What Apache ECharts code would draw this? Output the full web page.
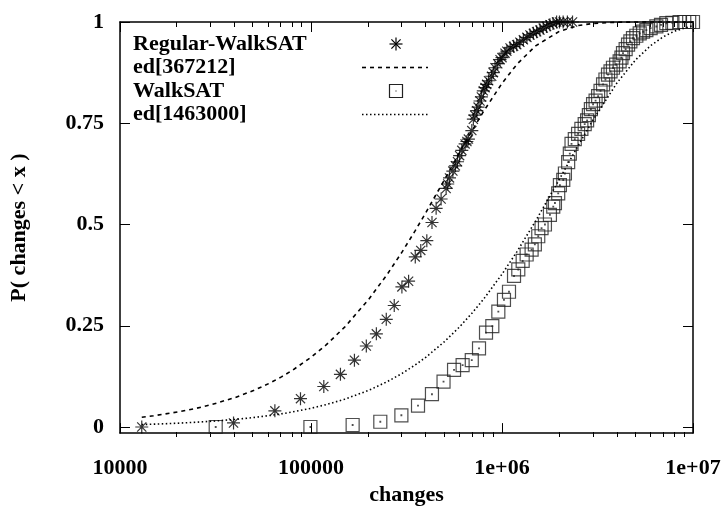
<!DOCTYPE html>
<html><head><meta charset="utf-8">
<script src="https://cdn.jsdelivr.net/npm/echarts@6/dist/echarts.min.js"></script>
<style>html,body{margin:0;padding:0;background:#fff}#c{width:727px;height:511px}</style>
</head><body><div id="c"></div>
<script>
// ---- data ----
const seriesNames = ['Regular-WalkSAT', 'ed[367212]', 'WalkSAT', 'ed[1463000]'];

const regularWalkSAT = [
  [13000, 0.0], [39300, 0.01], [64700, 0.04], [88100, 0.07], [116700, 0.10],
  [142600, 0.13], [168800, 0.165], [194800, 0.20], [219900, 0.23], [247800, 0.266],
  [272800, 0.30], [299200, 0.346], [324300, 0.36], [351500, 0.42], [375600, 0.436],
  [404000, 0.46], [430000, 0.505], [452000, 0.54], [480000, 0.563], [510000, 0.589],
  [520000, 0.60], [531000, 0.615], [553000, 0.632], [570000, 0.645], [585000, 0.655],
  [600000, 0.67], [616000, 0.683], [641000, 0.699], [655000, 0.705], [667000, 0.711],
  [695000, 0.732], [708000, 0.76], [720000, 0.77], [738000, 0.781], [750000, 0.79],
  [767000, 0.805], [780000, 0.815], [798000, 0.83], [815000, 0.838], [831000, 0.846],
  [850000, 0.855], [883000, 0.866], [900000, 0.875], [919000, 0.887], [950000, 0.897],
  [977000, 0.907], [1000000, 0.912], [1037000, 0.923], [1060000, 0.928], [1102000, 0.936],
  [1150000, 0.94], [1194000, 0.944], [1240000, 0.95], [1294000, 0.956], [1350000, 0.962],
  [1401000, 0.968], [1460000, 0.972], [1518000, 0.976], [1580000, 0.98], [1644000, 0.985],
  [1710000, 0.989], [1782000, 0.993], [1850000, 0.996], [1931000, 1.0], [2000000, 1.0],
  [2090000, 1.0], [2200000, 1.0], [2340000, 1.0]
];

const walkSAT = [
  [31700, 0.0], [99300, 0.0], [165200, 0.005], [230600, 0.013], [297300, 0.029],
  [363300, 0.053], [429800, 0.081], [494200, 0.112], [561000, 0.141], [622000, 0.153],
  [694600, 0.165], [758000, 0.194], [824700, 0.233], [889800, 0.249], [956700, 0.285],
  [1024000, 0.314], [1088000, 0.334], [1156000, 0.373], [1217000, 0.389], [1283000, 0.41],
  [1346000, 0.426], [1429000, 0.438], [1486000, 0.451], [1548000, 0.471], [1611000, 0.491],
  [1678000, 0.5], [1782000, 0.524], [1855000, 0.544], [1893000, 0.553], [1969000, 0.577],
  [2010000, 0.597], [2093000, 0.61], [2135000, 0.626], [2220000, 0.654], [2265000, 0.675],
  [2312000, 0.699], [2405000, 0.711], [2502000, 0.724], [2604000, 0.736], [2710000, 0.748],
  [2790000, 0.757], [2850000, 0.77], [2920000, 0.785], [2998000, 0.797], [3090000, 0.806],
  [3186000, 0.817], [3280000, 0.83], [3382000, 0.846], [3480000, 0.858], [3590000, 0.87],
  [3700000, 0.878], [3810000, 0.887], [3960000, 0.895], [4130000, 0.903], [4220000, 0.912],
  [4300000, 0.923], [4440000, 0.933], [4570000, 0.944], [4700000, 0.952], [4850000, 0.96],
  [5050000, 0.966], [5260000, 0.972], [5480000, 0.976], [5700000, 0.98], [6000000, 0.985],
  [6430000, 0.989], [6800000, 0.993], [7250000, 0.997], [7800000, 0.998], [8510000, 1.0],
  [9000000, 1.0], [9550000, 1.0], [10000000, 1.0]
];

const ed367212 = [
  [13000, 0.0242], [15000, 0.0279], [20000, 0.0371], [25000, 0.0461], [30000, 0.0551],
  [40000, 0.0727], [50000, 0.0901], [60000, 0.1071], [70000, 0.1238], [80000, 0.1402],
  [100000, 0.1720], [120000, 0.2027], [150000, 0.2466], [200000, 0.3145], [250000, 0.3762],
  [300000, 0.4324], [350000, 0.4835], [400000, 0.5300], [500000, 0.6109], [600000, 0.6778],
  [700000, 0.7332], [800000, 0.7791], [1000000, 0.8486], [1200000, 0.8962], [1500000, 0.9411],
  [2000000, 0.9771], [2500000, 0.9911], [3000000, 0.9965], [4000000, 0.9995], [5000000, 0.9999],
  [7000000, 1.0], [10000000, 1.0]
];

const ed1463000 = [
  [13000, 0.0061], [15000, 0.0071], [20000, 0.0094], [25000, 0.0118], [30000, 0.0141],
  [40000, 0.0188], [50000, 0.0234], [60000, 0.0280], [70000, 0.0326], [80000, 0.0372],
  [100000, 0.0463], [120000, 0.0553], [150000, 0.0686], [200000, 0.0904], [250000, 0.1117],
  [300000, 0.1325], [350000, 0.1528], [400000, 0.1726], [500000, 0.2109], [600000, 0.2474],
  [700000, 0.2823], [800000, 0.3155], [1000000, 0.3774], [1200000, 0.4337], [1500000, 0.5087],
  [2000000, 0.6123], [2500000, 0.6941], [3000000, 0.7586], [4000000, 0.8497], [5000000, 0.9064],
  [6000000, 0.9417], [7000000, 0.9637], [8000000, 0.9774], [10000000, 0.9912]
];

const xMajorTicks = [10000, 100000, 1000000, 10000000];
const xTickLabels = ['10000', '100000', '1e+06', '1e+07'];
const xMinorTicks = [20000, 30000, 40000, 50000, 60000, 70000, 80000, 90000,
  200000, 300000, 400000, 500000, 600000, 700000, 800000, 900000,
  2000000, 3000000, 4000000, 5000000, 6000000, 7000000, 8000000, 9000000];
const yTicks = [0, 0.25, 0.5, 0.75, 1];
const yTickLabels = ['0', '0.25', '0.5', '0.75', '1'];

// ---- styling ----
const FONT = 'Liberation Serif';
const FS = 22;
const txt = {fontFamily: FONT, fontWeight: 'bold', fontSize: FS, color: '#000'};
const STAR = 'path://M0,-10L0,10M-10,0L10,0M-7.07,-7.07L7.07,7.07M-7.07,7.07L7.07,-7.07';
const SQUARE = 'path://M-10,-10L10,-10L10,10L-10,10Z M-0.5,-0.5L0.5,-0.5L0.5,0.5L-0.5,0.5Z';

const chart = echarts.init(document.getElementById('c'), null, {renderer: 'canvas'});

const GRID = {left: 119, right: 34, top: 22, bottom: 74, containLabel: false};
const tickStyle = {color: '#000', width: 1};

// main log axes (data + major ticks + labels)
function xMajorAxis(pos, withLabels) {
  return {
    gridIndex: 0, type: 'log', logBase: 10, min: xMajorTicks[0], max: xMajorTicks[xMajorTicks.length - 1], position: pos,
    axisLine: {show: true, onZero: false, lineStyle: {color: '#000', width: 1.5}},
    axisTick: {show: true, inside: true, length: 10, lineStyle: tickStyle},
    axisLabel: {show: withLabels, margin: 24, ...txt, showMinLabel: true, showMaxLabel: true,
      formatter: v => { const i = xMajorTicks.findIndex(t => Math.abs(t - v) / t < 1e-6); return i >= 0 ? xTickLabels[i] : ''; }},
    splitLine: {show: false}, minorTick: {show: false},
    name: withLabels ? 'changes' : '', nameLocation: 'middle', nameGap: 30, nameTextStyle: txt
  };
}
// helper axes in log10 space, only for the minor ticks 2..9 of every decade
const xMinorTicksLog = xMinorTicks.map(v => Math.log10(v));
function xMinorAxis(pos) {
  return {
    gridIndex: 1, type: 'value', min: Math.log10(xMajorTicks[0]), max: Math.log10(xMajorTicks[xMajorTicks.length - 1]), position: pos,
    axisLine: {show: false, onZero: false}, axisLabel: {show: false}, splitLine: {show: false},
    axisTick: {show: true, inside: true, length: 5, customValues: xMinorTicksLog, lineStyle: tickStyle}
  };
}
function yAxisDef(gridIndex, pos, withLabels, visible) {
  return {
    gridIndex, show: visible, type: 'value', min: -0.015, max: 1, position: pos,
    axisLine: {show: true, onZero: false, lineStyle: {color: '#000', width: 1.5}},
    axisTick: {show: true, inside: true, length: 10, customValues: yTicks, lineStyle: tickStyle},
    axisLabel: {show: withLabels, customValues: yTicks, margin: 16, ...txt,
      formatter: v => { const i = yTicks.findIndex(t => Math.abs(t - v) < 1e-9); return i >= 0 ? yTickLabels[i] : ''; }},
    splitLine: {show: false},
    name: withLabels ? 'P( changes < x )' : '', nameLocation: 'middle', nameRotate: 90, nameGap: 90, nameTextStyle: txt
  };
}

const legendX = 133, legendRowY = [44, 67.5, 91, 114.5], symX = 396, lineX0 = 362, lineX1 = 428;
const graphics = [];
seriesNames.forEach((n, i) => {
  graphics.push({type: 'text', x: legendX, y: legendRowY[i],
    style: {text: n, font: `bold ${FS}px "${FONT}"`, fill: '#000', verticalAlign: 'middle', align: 'left'}});
});
graphics.push({type: 'group', x: symX, y: legendRowY[0], children: [
  {type: 'line', shape: {x1: 0, y1: -6.5, x2: 0, y2: 6.5}, style: {stroke: '#000', lineWidth: 1.2}},
  {type: 'line', shape: {x1: -6.5, y1: 0, x2: 6.5, y2: 0}, style: {stroke: '#000', lineWidth: 1.2}},
  {type: 'line', shape: {x1: -4.6, y1: -4.6, x2: 4.6, y2: 4.6}, style: {stroke: '#000', lineWidth: 1.2}},
  {type: 'line', shape: {x1: -4.6, y1: 4.6, x2: 4.6, y2: -4.6}, style: {stroke: '#000', lineWidth: 1.2}}
]});
graphics.push({type: 'line', shape: {x1: lineX0, y1: legendRowY[1], x2: lineX1, y2: legendRowY[1]},
  style: {stroke: '#000', lineWidth: 1.6, lineDash: [4, 4]}});
graphics.push({type: 'group', x: symX, y: legendRowY[2], children: [
  {type: 'rect', shape: {x: -6.5, y: -6.5, width: 13, height: 13}, style: {fill: 'none', stroke: '#222', lineWidth: 1.2}},
  {type: 'rect', shape: {x: -0.5, y: -0.5, width: 1, height: 1}, style: {fill: '#000'}}
]});
graphics.push({type: 'line', shape: {x1: lineX0, y1: legendRowY[3], x2: lineX1, y2: legendRowY[3]},
  style: {stroke: '#000', lineWidth: 1.6, lineDash: [1.5, 2.5]}});

chart.setOption({
  animation: false,
  backgroundColor: '#fff',
  grid: [GRID, Object.assign({}, GRID)],
  xAxis: [xMajorAxis('bottom', true), xMajorAxis('top', false), xMinorAxis('bottom'), xMinorAxis('top')],
  yAxis: [yAxisDef(0, 'left', true, true), yAxisDef(0, 'right', false, true), yAxisDef(1, 'left', false, false)],
  series: [
    {name: seriesNames[0], type: 'scatter', xAxisIndex: 0, yAxisIndex: 0, data: regularWalkSAT, symbol: STAR, symbolSize: 13, clip: false,
      itemStyle: {color: 'transparent', borderColor: '#000', borderWidth: 1.2}},
    {name: seriesNames[1], type: 'line', xAxisIndex: 0, yAxisIndex: 0, data: ed367212, showSymbol: false, symbol: 'none', clip: false,
      lineStyle: {color: '#000', width: 1.6, type: [4, 4]}},
    {name: seriesNames[2], type: 'scatter', xAxisIndex: 0, yAxisIndex: 0, data: walkSAT, symbol: SQUARE, symbolSize: 13, clip: false,
      itemStyle: {color: 'transparent', borderColor: '#222', borderWidth: 1.2}},
    {name: seriesNames[3], type: 'line', xAxisIndex: 0, yAxisIndex: 0, data: ed1463000, showSymbol: false, symbol: 'none', clip: false,
      lineStyle: {color: '#000', width: 1.6, type: [1.5, 2.5]}}
  ],
  graphic: graphics
});
</script></body></html>
